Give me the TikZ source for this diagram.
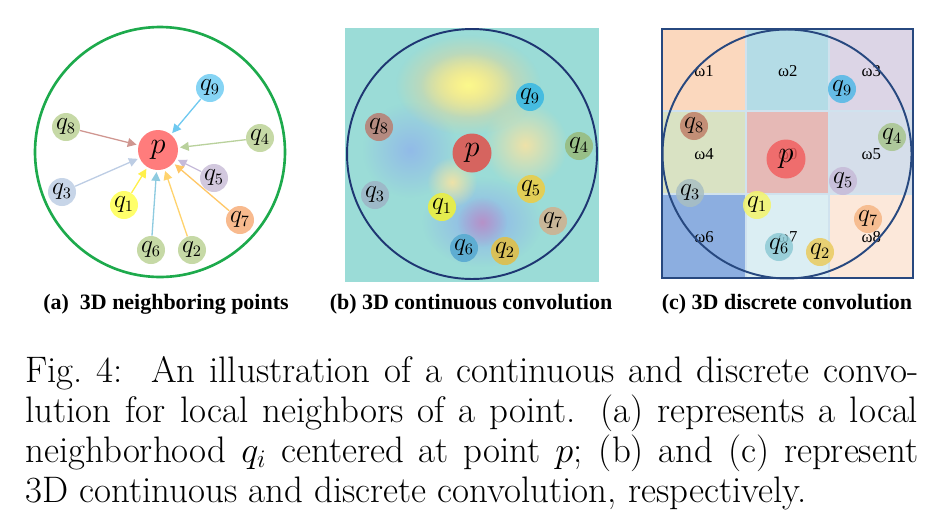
\documentclass[tikz,border=0pt]{standalone}
\usepackage{fontspec}
\usetikzlibrary{arrows.meta, fadings}
\newfontfamily\capfont{Liberation Serif}

% panel (a)
\definecolor{ringgreen}{HTML}{1DAA4C}
\definecolor{ptred}{HTML}{FF7C7C}
\definecolor{skyq}{HTML}{86D4F4}
\definecolor{sageq}{HTML}{C6D9A6}
\definecolor{lilacq}{HTML}{D2C8DE}
\definecolor{steelq}{HTML}{C7D5E8}
\definecolor{lemonq}{HTML}{FFFF6A}
\definecolor{peachq}{HTML}{F8BA8E}
\definecolor{skyarr}{HTML}{6FC9F0}
\definecolor{rosearr}{HTML}{CF9690}
\definecolor{sagearr}{HTML}{B9D19C}
\definecolor{lilacarr}{HTML}{C6BBDA}
\definecolor{steelarr}{HTML}{BDCDE4}
\definecolor{lemonarr}{HTML}{FFF04A}
\definecolor{amberarr}{HTML}{FFC766}
\definecolor{cyanarr}{HTML}{8ECBE0}
\definecolor{goldarr}{HTML}{FFD36E}
% panel (b)
\definecolor{tealbg}{HTML}{9BDCD7}
\definecolor{bnavy}{HTML}{1E3672}
\definecolor{bp}{HTML}{D6645F}
\definecolor{bq1}{HTML}{E4EC4E}
\definecolor{bq2}{HTML}{D8C058}
\definecolor{bq3}{HTML}{9DB9C8}
\definecolor{bq4}{HTML}{98BF88}
\definecolor{bq5}{HTML}{E2CE56}
\definecolor{bq6}{HTML}{5EADD2}
\definecolor{bq7}{HTML}{C8B698}
\definecolor{bq8}{HTML}{B48A80}
\definecolor{bq9}{HTML}{46BCE0}
\definecolor{blobyellow}{HTML}{FBF98C}
\definecolor{bloborange}{HTML}{F6D48A}
\definecolor{blobblue}{HTML}{8FB2EC}
\definecolor{blobbeige}{HTML}{EEE2A8}
\definecolor{blobpurple}{HTML}{C08ABF}
% panel (c)
\definecolor{cnavy}{HTML}{27487F}
\definecolor{gridline}{HTML}{D0E2EE}
\definecolor{cellpeach}{HTML}{FBD8BE}
\definecolor{cellsky}{HTML}{B4DCE6}
\definecolor{celllilac}{HTML}{DCD5E6}
\definecolor{cellsage}{HTML}{D9E2C3}
\definecolor{cellrose}{HTML}{E6B9B6}
\definecolor{cellmist}{HTML}{D5DEEA}
\definecolor{cellblue}{HTML}{8CAEE0}
\definecolor{cellice}{HTML}{DBEEF3}
\definecolor{cellcream}{HTML}{FCE8DA}
\definecolor{cp}{HTML}{F25B5B}
\definecolor{cq1}{HTML}{F4F46A}
\definecolor{cq2}{HTML}{EACB5E}
\definecolor{cq3}{HTML}{A9BFC2}
\definecolor{cq4}{HTML}{A8C58E}
\definecolor{cq5}{HTML}{C6BAD8}
\definecolor{cq6}{HTML}{8ECAD5}
\definecolor{cq7}{HTML}{F6B685}
\definecolor{cq8}{HTML}{C08069}
\definecolor{cq9}{HTML}{52B8E6}

\tikzfading[name=softblob, inner color=transparent!0, outer color=transparent!100]

\tikzset{
  nbpt/.style={circle, minimum size=0.56cm, inner sep=0pt,
               font=\fontsize{13.5}{13.5}\selectfont},
  ctrpt/.style={circle, minimum size=0.78cm, inner sep=0pt,
                font=\fontsize{17}{17}\selectfont},
  nbarrow/.style={-{Triangle[length=5pt,width=5pt]}, line width=0.75pt,
                  shorten >=1pt},
  wlabel/.style={font=\capfont\fontsize{9.5}{9.5}\selectfont, inner sep=0pt},
  subcap/.style={font=\capfont\bfseries\fontsize{12.5}{14}\selectfont,
                 anchor=base, inner sep=0pt},
  blob/.style={path fading=softblob},
}

\begin{document}
\begin{tikzpicture}[x=0.02cm, y=-0.02cm]
  \useasboundingbox (0,0) rectangle (942,528);
  % (a) neighboring points
  \draw[ringgreen, line width=1.5pt] (160,152) circle (2.5cm);
  \node[ctrpt, minimum size=0.8cm, fill=ptred] (a-p) at (158,150) {$p$};
  \foreach \i/\x/\y/\fc/\ac in {9/210/88/skyq/skyarr, 8/66/127/sageq/rosearr,
      4/260/138/sageq/sagearr, 5/214/178/lilacq/lilacarr, 3/62/192/steelq/steelarr,
      1/124/205/lemonq/lemonarr, 7/240/220/peachq/amberarr, 6/151/250/sageq/cyanarr,
      2/192/250/sageq/goldarr} {
    \node[nbpt, fill=\fc] (a-q\i) at (\x,\y) {$q_{\i}$};
    \draw[nbarrow, \ac] (a-q\i) -- (a-p);
  }
  % (b) continuous convolution
  \fill[tealbg] (345,28) rectangle (599,282);
  \fill[blobblue, blob, opacity=0.8] (410,150) circle (0.95cm);
  \fill[blobblue, blob] (482,222) ellipse (1.2cm and 0.9cm);
  \fill[blobpurple, blob, opacity=0.8] (482,222) circle (0.5cm);
  \fill[blobbeige, blob] (525,145) circle (0.85cm);
  \fill[blobbeige, blob] (452,182) circle (0.5cm);
  \fill[bloborange, blob] (468,85) ellipse (1.45cm and 1.0cm);
  \fill[blobyellow, blob] (468,85) ellipse (0.95cm and 0.65cm);
  \draw[bnavy, line width=1.1pt] (472,154) circle (2.5cm);
  \node[ctrpt, fill=bp] (b-p) at (472,153) {$p$};
  \foreach \i/\x/\y in {9/530/97, 8/379/127, 4/579/146, 3/375/195, 1/442/207,
      5/531/189, 7/553/221, 6/464/248, 2/505/251} {
    \node[nbpt, fill=bq\i] (b-q\i) at (\x,\y) {$q_{\i}$};
  }
  % (c) discrete convolution
  \foreach \cx/\cy/\clr/\w in {0/0/cellpeach/1, 1/0/cellsky/2, 2/0/celllilac/3,
      0/1/cellsage/4, 1/1/cellrose/0, 2/1/cellmist/5, 0/2/cellblue/6,
      1/2/cellice/7, 2/2/cellcream/8} {
    \pgfmathsetmacro\xa{662+83.67*\cx}
    \pgfmathsetmacro\ya{29+83*\cy}
    \fill[\clr] (\xa,\ya) rectangle ++(83.67,83);
    \node[wlabel] (c-w\w) at (\xa+42,\ya+42) {ω\w};
  }
  \foreach \g in {746,829} {
    \draw[gridline, line width=0.9pt] (\g,29) -- (\g,278);
  }
  \foreach \g in {111,194} {
    \draw[gridline, line width=0.9pt] (662,\g) -- (913,\g);
  }
  \draw[cnavy, line width=1.3pt] (662,29) rectangle (913,278);
  \draw[cnavy, line width=1.1pt] (787,154) circle (2.49cm);
  \node[ctrpt, fill=cp, fill opacity=0.8, text opacity=1] (c-p) at (786,159) {$p$};
  \foreach \i/\x/\y in {9/842/89, 8/694/126, 4/892/137, 5/843/181, 3/690/193,
      1/757/205, 7/868/219, 6/779/247, 2/820/252} {
    \node[nbpt, fill=cq\i, fill opacity=0.85, text opacity=1] (c-q\i) at (\x,\y) {$q_{\i}$};
  }
  % sub-captions
  \node[subcap] (cap-a) at (166,309) {(a)\ \ 3D neighboring points};
  \node[subcap] (cap-b) at (471,309) {(b) 3D continuous convolution};
  \node[subcap] (cap-c) at (787,309) {(c) 3D discrete convolution};
  % figure caption
  \node[anchor=north west, inner sep=0pt, text width=17.86cm, align=justify,
        font=\fontsize{21}{22.7}\selectfont] (figcap) at (25,356)
    {Fig.~4:\ \ An illustration of a continuous and discrete convo-\linebreak
     lution for local neighbors of a point. (a) represents a local\linebreak
     neighborhood $q_i$ centered at point $p$; (b) and (c) represent\linebreak
     3D continuous and discrete convolution, respectively.};
\end{tikzpicture}
\end{document}
